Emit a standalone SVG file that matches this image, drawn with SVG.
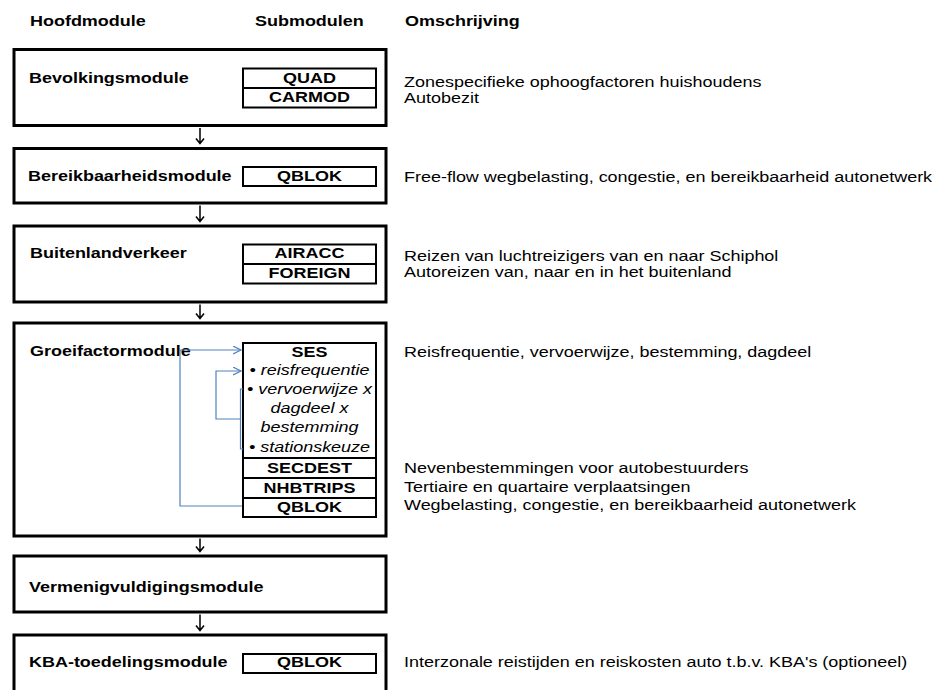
<svg xmlns="http://www.w3.org/2000/svg" width="937" height="690" viewBox="0 0 937 690">
<style>
text{font-family:"Liberation Sans",Arial,sans-serif;font-size:15.5px;fill:#000}
.b{font-weight:bold}
.i{font-style:italic}
.c{text-anchor:middle}
.box{fill:#fff;stroke:#000;stroke-width:3}
.sub{fill:#fff;stroke:#000;stroke-width:2}
.arr{fill:none;stroke:#000;stroke-width:1.5}
.blue{fill:none;stroke:#4f81bd;stroke-width:1.2}
</style>
<defs>
<marker id="bh" markerUnits="userSpaceOnUse" markerWidth="10" markerHeight="10" refX="8" refY="4.5" orient="auto">
<path d="M0,0.5 L8,4.5 L0,8.5" fill="none" stroke="#4f81bd" stroke-width="1.2"/>
</marker>
</defs>
<rect width="937" height="690" fill="#fff"/>
<g id="headers">
<text class="b" transform="translate(30,26) scale(1.16,1)">Hoofdmodule</text>
<text class="b" transform="translate(255,26) scale(1.16,1)">Submodulen</text>
<text class="b" transform="translate(405,26) scale(1.16,1)">Omschrijving</text>
</g>
<g id="bevolking">
<rect class="box" x="14" y="49.5" width="372" height="76"/>
<text class="b" transform="translate(29,83) scale(1.16,1)">Bevolkingsmodule</text>
<rect class="sub" x="243" y="68.5" width="133" height="19.5"/>
<rect class="sub" x="243" y="88" width="133" height="19.5"/>
<text class="b c" transform="translate(309.5,83) scale(1.16,1)">QUAD</text>
<text class="b c" transform="translate(309.5,102) scale(1.16,1)">CARMOD</text>
<text transform="translate(404,87) scale(1.16,1)">Zonespecifieke ophoogfactoren huishoudens</text>
<text transform="translate(404,103) scale(1.16,1)">Autobezit</text>
</g>
<g id="bereikbaarheid">
<rect class="box" x="14" y="148.5" width="372" height="54.5"/>
<text class="b" transform="translate(28,181) scale(1.16,1)">Bereikbaarheidsmodule</text>
<rect class="sub" x="243" y="167" width="133" height="19"/>
<text class="b c" transform="translate(309.5,181) scale(1.16,1)">QBLOK</text>
<text transform="translate(404,182) scale(1.16,1)">Free-flow wegbelasting, congestie, en bereikbaarheid autonetwerk</text>
</g>
<g id="buitenland">
<rect class="box" x="14" y="226" width="372" height="76"/>
<text class="b" transform="translate(30,258) scale(1.16,1)">Buitenlandverkeer</text>
<rect class="sub" x="243" y="244.5" width="133" height="19.5"/>
<rect class="sub" x="243" y="264" width="133" height="19.5"/>
<text class="b c" transform="translate(309.5,257.5) scale(1.16,1)">AIRACC</text>
<text class="b c" transform="translate(309.5,277.5) scale(1.16,1)">FOREIGN</text>
<text transform="translate(404,261) scale(1.16,1)">Reizen van luchtreizigers van en naar Schiphol</text>
<text transform="translate(404,277) scale(1.16,1)">Autoreizen van, naar en in het buitenland</text>
</g>
<g id="groeifactor">
<rect class="box" x="14" y="323" width="372" height="213"/>
<text class="b" transform="translate(30,356) scale(1.16,1)">Groeifactormodule</text>
<rect class="sub" x="243" y="343" width="133" height="115"/>
<rect class="sub" x="243" y="458" width="133" height="20"/>
<rect class="sub" x="243" y="478" width="133" height="20"/>
<rect class="sub" x="243" y="498" width="133" height="19"/>
<text class="b c" transform="translate(309.5,357) scale(1.16,1)">SES</text>
<text class="i c" transform="translate(309.5,375) scale(1.16,1)">• reisfrequentie</text>
<text class="i c" transform="translate(309.5,394) scale(1.16,1)">• vervoerwijze x</text>
<text class="i c" transform="translate(309.5,413) scale(1.16,1)">dagdeel x</text>
<text class="i c" transform="translate(309.5,432) scale(1.16,1)">bestemming</text>
<text class="i c" transform="translate(309.5,452) scale(1.16,1)">• stationskeuze</text>
<text class="b c" transform="translate(309.5,473) scale(1.16,1)">SECDEST</text>
<text class="b c" transform="translate(309.5,492.5) scale(1.16,1)">NHBTRIPS</text>
<text class="b c" transform="translate(309.5,512) scale(1.16,1)">QBLOK</text>
<text transform="translate(404,357) scale(1.16,1)">Reisfrequentie, vervoerwijze, bestemming, dagdeel</text>
<text transform="translate(404,473) scale(1.16,1)">Nevenbestemmingen voor autobestuurders</text>
<text transform="translate(404,492) scale(1.16,1)">Tertiaire en quartaire verplaatsingen</text>
<text transform="translate(404,510) scale(1.16,1)">Wegbelasting, congestie, en bereikbaarheid autonetwerk</text>
</g>
<g id="vermenigvuldiging">
<rect class="box" x="14" y="556" width="372" height="56"/>
<text class="b" transform="translate(29,592) scale(1.16,1)">Vermenigvuldigingsmodule</text>
</g>
<g id="kba">
<rect class="box" x="14" y="635" width="372" height="80"/>
<text class="b" transform="translate(29,667) scale(1.16,1)">KBA-toedelingsmodule</text>
<rect class="sub" x="243" y="654" width="133" height="19"/>
<text class="b c" transform="translate(309.5,667) scale(1.16,1)">QBLOK</text>
<text transform="translate(404,667) scale(1.16,1)">Interzonale reistijden en reiskosten auto t.b.v. KBA's (optioneel)</text>
</g>
<g id="connectors">
<path class="arr" d="M200,128 V143 M196,138.5 L200,143.5 L204,138.5"/>
<path class="arr" d="M200,205.5 V221 M196,216.5 L200,221.5 L204,216.5"/>
<path class="arr" d="M200,304.5 V318 M196,313.5 L200,318.5 L204,313.5"/>
<path class="arr" d="M200,538.5 V551 M196,546.5 L200,551.5 L204,546.5"/>
<path class="arr" d="M200,614.5 V630 M196,625.5 L200,630.5 L204,625.5"/>
<path class="blue" d="M242,506 H180 V350 H241" marker-end="url(#bh)"/>
<path class="blue" d="M243,389 H240.5 V449 H243"/>
<path class="blue" d="M240.5,419 H216 V371 H241" marker-end="url(#bh)"/>
</g>
</svg>
